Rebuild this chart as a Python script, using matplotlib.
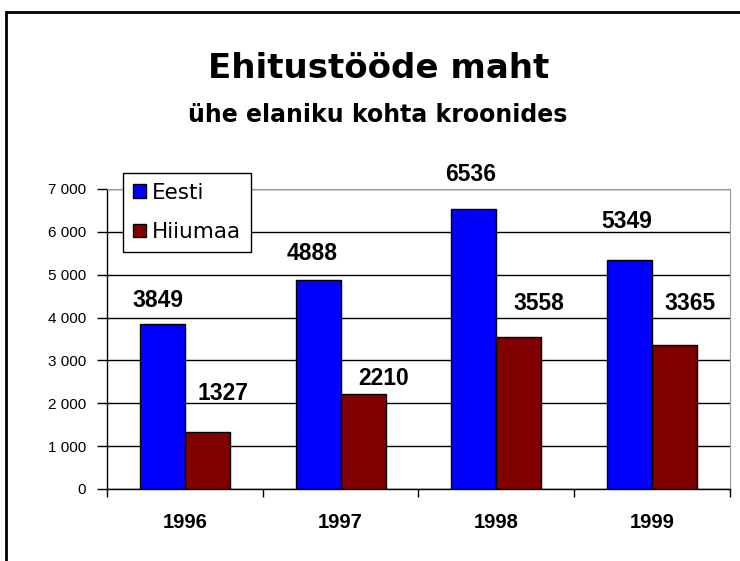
import matplotlib.pyplot as plt
from matplotlib.patches import Rectangle
from matplotlib.ticker import FuncFormatter
import numpy as np

years = ['1996', '1997', '1998', '1999']
eesti = [3849, 4888, 6536, 5349]
hiiumaa = [1327, 2210, 3558, 3365]

# label nudges (data units), labels were hand-placed in the original
eesti_dx = [-0.03, -0.04, -0.02, -0.02]
eesti_dy = [400, 455, 650, 740]
hiiu_dx = [0.10, 0.13, 0.13, 0.10]
hiiu_dy = [750, 217, 618, 811]

plt.rcParams['font.family'] = ['Liberation Sans', 'DejaVu Sans']

fig = plt.figure(figsize=(7.4, 5.61), dpi=100)
ax = fig.add_axes([107/740, 1-489/561, 623/740, 300/561])

x = np.arange(len(years))
w = 0.289
ax.bar(x - w/2, eesti, w, color='#0000FF', edgecolor='black', linewidth=1, label='Eesti', zorder=3)
ax.bar(x + w/2, hiiumaa, w, color='#800000', edgecolor='black', linewidth=1, label='Hiiumaa', zorder=3)

for i in range(len(years)):
    ax.text(x[i] - w/2 + eesti_dx[i], eesti[i] + eesti_dy[i], str(eesti[i]),
            ha='center', va='baseline', fontsize=16.5, fontweight='bold')
    ax.text(x[i] + w/2 + hiiu_dx[i], hiiumaa[i] + hiiu_dy[i], str(hiiumaa[i]),
            ha='center', va='baseline', fontsize=16.5, fontweight='bold')

ax.set_xlim(-0.5, len(years) - 0.5)
ax.set_ylim(0, 7000)
ax.set_yticks(range(0, 7001, 1000))
ax.yaxis.set_major_formatter(FuncFormatter(lambda v, p: f'{int(v):,}'.replace(',', ' ')))
ax.grid(axis='y', color='black', linewidth=1, zorder=0)
ax.set_axisbelow(True)

ax.set_xticks(x)
ax.set_xticklabels(years, fontsize=14.5, fontweight='bold')
ax.set_xticks(np.arange(-0.5, len(years), 1), minor=True)
ax.tick_params(axis='x', which='major', length=0, pad=17)
ax.tick_params(axis='x', which='minor', length=6, width=1, direction='out', color='black')
ax.tick_params(axis='y', length=7, width=1, direction='out', labelsize=11, pad=8)

ax.spines['top'].set_color('#999999')
ax.spines['right'].set_color('#999999')
ax.spines['left'].set_linewidth(1)
ax.spines['bottom'].set_linewidth(1)

leg = ax.legend(loc='upper left', bbox_to_anchor=(16/623, 1 + 16/300),
                prop={'family': 'DejaVu Sans', 'size': 15.5},
                frameon=True, fancybox=False, edgecolor='black', framealpha=1,
                handlelength=0.6, handleheight=0.6, handletextpad=0.3,
                borderpad=0.45, labelspacing=0.9, borderaxespad=0)
leg.get_frame().set_linewidth(1)
leg.set_zorder(5)

fig.text(379/740, 1 - 78/561, 'Ehitustööde maht', ha='center', va='baseline',
         fontsize=24.5, fontweight='bold', family='DejaVu Sans')
fig.text(378/740, 1 - 122/561, 'ühe elaniku kohta kroonides', ha='center', va='baseline',
         fontsize=17, fontweight='bold', family='DejaVu Sans')

frame = Rectangle((6/740, -0.1), 2, 1 - 12/561 + 0.1, transform=fig.transFigure,
                  fill=False, edgecolor='black', linewidth=2)
fig.patches.append(frame)

fig.savefig('out.png', dpi=100)
